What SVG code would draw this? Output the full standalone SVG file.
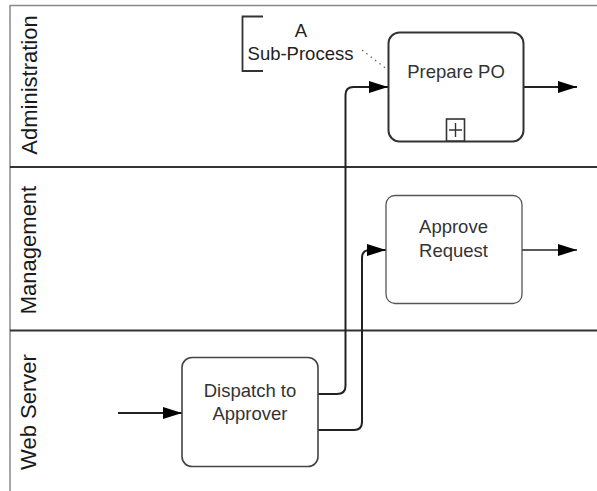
<svg xmlns="http://www.w3.org/2000/svg" width="597" height="491" viewBox="0 0 597 491">
<style>
  .lane { font-family: "Liberation Sans", Arial, sans-serif; font-size: 22px; fill: #1a1a1a; }
  .lbl { font-family: "Liberation Sans", Arial, sans-serif; font-size: 18.5px; fill: #333; text-anchor: middle; }
  .ann { font-family: "Liberation Sans", Arial, sans-serif; font-size: 18.5px; fill: #222; }
  .task { fill: #fff; }
  .conn { fill: none; stroke: #222; }
</style>
<defs>
  <marker id="arr" viewBox="0 0 19 12" refX="19" refY="6" markerWidth="19" markerHeight="12" markerUnits="userSpaceOnUse" orient="auto">
    <path d="M0,0 L19,6 L0,12 Z" fill="#000"/>
  </marker>
</defs>
<rect x="0" y="0" width="597" height="491" fill="#fff"/>
<g id="pool">
  <line x1="10" y1="5.5" x2="597" y2="5.5" stroke="#888" stroke-width="1.5"/>
  <line x1="10" y1="5" x2="10" y2="491" stroke="#888" stroke-width="1.5"/>
  <line x1="10" y1="167" x2="597" y2="167" stroke="#333" stroke-width="2"/>
  <line x1="10" y1="330.5" x2="597" y2="330.5" stroke="#333" stroke-width="2"/>
</g>
<g id="lane-administration"><text class="lane" text-anchor="middle" transform="translate(37,85) rotate(-90)">Administration</text></g>
<g id="lane-management"><text class="lane" text-anchor="middle" transform="translate(36,250) rotate(-90)">Management</text></g>
<g id="lane-webserver"><text class="lane" text-anchor="middle" transform="translate(36,412) rotate(-90)">Web Server</text></g>

<g id="connectors">
  <path class="conn" stroke-width="2" d="M118,413 H182" marker-end="url(#arr)"/>
  <path class="conn" stroke-width="2" d="M318,394 H337 Q345.5,394 345.5,386 V95 Q345.5,87 353.5,87 H388" marker-end="url(#arr)"/>
  <path class="conn" stroke-width="2" d="M318,430 H354 Q362,430 362,422 V258 Q362,250 370,250 H386" marker-end="url(#arr)"/>
  <path class="conn" stroke-width="2" d="M523,87 H577" marker-end="url(#arr)"/>
  <path class="conn" stroke-width="1.3" d="M522,250 H577" marker-end="url(#arr)"/>
  <path fill="none" stroke="#666" stroke-width="1.3" stroke-dasharray="1.5,4" d="M362,50 L388,70"/>
</g>

<g id="annotation">
  <path d="M263,16.5 H242.5 V71 H263" fill="none" stroke="#333" stroke-width="1.8"/>
  <text class="ann" x="301" y="37" text-anchor="middle">A</text>
  <text class="ann" x="300.5" y="59.5" text-anchor="middle">Sub-Process</text>
</g>

<g id="prepare-po">
  <rect class="task" x="388.5" y="32.5" width="135" height="109" rx="11" stroke="#333" stroke-width="2"/>
  <text class="lbl" x="456" y="78">Prepare PO</text>
  <rect x="446.5" y="119" width="18" height="22" fill="#fff" stroke="#333" stroke-width="1.6"/>
  <path d="M455.5,123 V137 M449,130 H462" stroke="#333" stroke-width="1.4"/>
</g>

<g id="approve-request">
  <rect class="task" x="386" y="195.5" width="136" height="108" rx="9" stroke="#555" stroke-width="1.3"/>
  <text class="lbl" x="453.5" y="233">Approve</text>
  <text class="lbl" x="453.5" y="256.5">Request</text>
</g>

<g id="dispatch">
  <rect class="task" x="182" y="357.5" width="136" height="109" rx="10" stroke="#444" stroke-width="1.6"/>
  <text class="lbl" x="250" y="397">Dispatch to</text>
  <text class="lbl" x="250" y="420">Approver</text>
</g>
</svg>
